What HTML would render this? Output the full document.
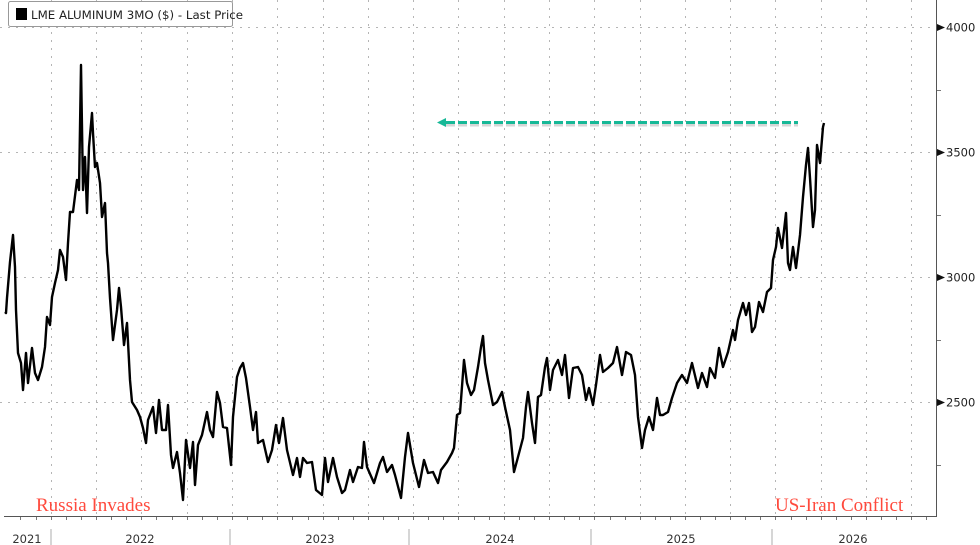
<!DOCTYPE html>
<html><head><meta charset="utf-8"><style>
html,body{margin:0;padding:0;background:#fff;}
svg{display:block;}
</style></head><body>
<svg width="980" height="545" viewBox="0 0 980 545" xmlns="http://www.w3.org/2000/svg">
<rect width="980" height="545" fill="#fff"/>
<g stroke="#b5b5b5" stroke-width="1" stroke-dasharray="2,6">
<line x1="0" y1="27.5" x2="936" y2="27.5"/>
<line x1="0" y1="152.5" x2="936" y2="152.5"/>
<line x1="0" y1="277.5" x2="936" y2="277.5"/>
<line x1="0" y1="402.5" x2="936" y2="402.5"/>
<line x1="51.5" y1="0" x2="51.5" y2="516"/>
<line x1="96.5" y1="0" x2="96.5" y2="516"/>
<line x1="141.5" y1="0" x2="141.5" y2="516"/>
<line x1="187.5" y1="0" x2="187.5" y2="516"/>
<line x1="232.5" y1="0" x2="232.5" y2="516"/>
<line x1="277.5" y1="0" x2="277.5" y2="516"/>
<line x1="323.5" y1="0" x2="323.5" y2="516"/>
<line x1="368.5" y1="0" x2="368.5" y2="516"/>
<line x1="413.5" y1="0" x2="413.5" y2="516"/>
<line x1="458.5" y1="0" x2="458.5" y2="516"/>
<line x1="504.5" y1="0" x2="504.5" y2="516"/>
<line x1="549.5" y1="0" x2="549.5" y2="516"/>
<line x1="594.5" y1="0" x2="594.5" y2="516"/>
<line x1="640.5" y1="0" x2="640.5" y2="516"/>
<line x1="685.5" y1="0" x2="685.5" y2="516"/>
<line x1="730.5" y1="0" x2="730.5" y2="516"/>
<line x1="775.5" y1="0" x2="775.5" y2="516"/>
<line x1="821.5" y1="0" x2="821.5" y2="516"/>
<line x1="866.5" y1="0" x2="866.5" y2="516"/>
<line x1="911.5" y1="0" x2="911.5" y2="516"/>
</g>
<line x1="936.5" y1="0" x2="936.5" y2="517" stroke="#555" stroke-width="1"/>
<line x1="4" y1="516.5" x2="936" y2="516.5" stroke="#555" stroke-width="1"/>
<g stroke="#777" stroke-width="1">
<path d="M20.5 517v3M36.5 517v3M51.5 517v3M66.5 517v3M81.5 517v3M96.5 517v3M111.5 517v3M126.5 517v3M141.5 517v3M156.5 517v3M172.5 517v3M187.5 517v3M202.5 517v3M217.5 517v3M232.5 517v3M247.5 517v3M262.5 517v3M277.5 517v3M292.5 517v3M308.5 517v3M323.5 517v3M338.5 517v3M353.5 517v3M368.5 517v3M383.5 517v3M398.5 517v3M413.5 517v3M428.5 517v3M443.5 517v3M458.5 517v3M474.5 517v3M489.5 517v3M504.5 517v3M519.5 517v3M534.5 517v3M549.5 517v3M564.5 517v3M579.5 517v3M594.5 517v3M610.5 517v3M625.5 517v3M640.5 517v3M655.5 517v3M670.5 517v3M685.5 517v3M700.5 517v3M715.5 517v3M730.5 517v3M745.5 517v3M760.5 517v3M775.5 517v3M791.5 517v3M806.5 517v3M821.5 517v3M836.5 517v3M851.5 517v3M866.5 517v3M881.5 517v3M896.5 517v3M911.5 517v3M926.5 517v3"/>
<path d="M937 90.5h4M937 215.5h4M937 340.5h4M937 465.5h4"/>
</g>
<g fill="#111">
<path d="M937 24l8 3.5l-8 3.5z"/><path d="M937 149l8 3.5l-8 3.5z"/><path d="M937 274l8 3.5l-8 3.5z"/><path d="M937 399l8 3.5l-8 3.5z"/>
</g>
<g font-family="'DejaVu Sans','Liberation Sans',sans-serif" font-size="11.5" fill="#222">
<text x="946" y="31.5">4000</text>
<text x="946" y="156.5">3500</text>
<text x="946" y="281.5">3000</text>
<text x="946" y="406.5">2500</text>
</g>
<g stroke="#bbb" stroke-width="1.2">
<line x1="51" y1="529" x2="51" y2="545"/><line x1="230" y1="529" x2="230" y2="545"/><line x1="409" y1="529" x2="409" y2="545"/><line x1="591" y1="529" x2="591" y2="545"/><line x1="772" y1="529" x2="772" y2="545"/>
</g>
<g font-family="'DejaVu Sans','Liberation Sans',sans-serif" font-size="11.5" fill="#333" text-anchor="middle">
<text x="27" y="543">2021</text><text x="140" y="543">2022</text><text x="320" y="543">2023</text><text x="500" y="543">2024</text><text x="681" y="543">2025</text><text x="853" y="543">2026</text>
</g>
<polyline fill="none" stroke="#000" stroke-width="2.4" stroke-linejoin="round" points="5,312 6,313 7,298 10,262 13,235 15,267 16,310 18,353 21,363 23,390 26,353 28,383 32,348 35,373 38,380 42,367 45,347 47,317 50,325 52,297 55,283 58,270 60,250 63,257 66,280 68,243 70,212 73,212 77,180 79,190 81,65 83,190 85,157 87,213 89,147 92,113 93,133 95,167 97,163 100,183 102,217 105,203 107,253 108,263 110,298 113,340 117,310 119,288 121,307 124,345 127,323 130,380 132,402 137,410 140,417 143,428 146,443 148,420 153,407 156,433 159,400 162,430 166,430 168,405 171,455 173,468 177,452 180,473 183,500 186,440 190,468 193,442 195,485 198,445 202,435 207,412 210,430 213,437 217,392 220,403 223,427 227,428 231,465 233,417 237,377 240,368 243,363 246,378 250,407 253,430 256,412 258,443 263,440 268,462 272,450 276,425 279,443 283,418 287,450 293,475 297,458 300,477 303,458 307,463 312,462 316,490 322,495 325,458 328,482 333,458 337,477 342,493 345,490 350,470 353,482 358,467 362,468 364,442 367,467 374,483 380,463 383,457 387,472 392,465 395,475 401,498 405,457 408,433 413,463 419,487 424,460 428,473 433,472 438,483 441,470 447,462 452,453 454,448 457,415 460,413 464,360 467,383 471,395 474,390 478,367 481,347 483,336 485,363 488,380 493,405 497,402 502,392 505,407 510,430 514,472 518,457 523,438 526,407 528,392 532,423 535,443 538,397 541,395 545,367 547,358 550,390 553,370 558,360 562,375 565,355 569,398 573,368 578,367 582,375 586,400 589,388 593,405 596,385 600,355 603,372 608,368 613,363 617,347 622,375 626,352 631,355 635,375 638,417 642,448 645,430 649,417 653,430 657,398 660,415 663,415 668,412 672,398 677,383 682,375 687,383 692,363 698,388 702,373 707,387 710,368 715,378 719,348 723,367 728,352 733,330 735,340 738,320 743,303 746,315 749,303 752,332 755,327 759,302 763,312 767,292 771,288 773,260 776,247 778,228 782,248 786,213 788,263 790,270 793,247 796,268 800,235 803,197 806,165 808,148 810,178 813,227 815,210 817,145 820,163 823,127 824,123"/>
<line x1="446" y1="125" x2="798" y2="125" stroke="#bbb" stroke-width="3" stroke-dasharray="9,3" opacity="0.6"/>
<line x1="446" y1="122.5" x2="798" y2="122.5" stroke="#17b897" stroke-width="3" stroke-dasharray="9,3"/>
<path d="M437 122.5l9 -4.5v9z" fill="#17b897"/>
<g font-family="'Liberation Serif',serif" font-size="19" fill="#ff4a3d">
<text x="36" y="511">Russia Invades</text>
<text x="775" y="511">US-Iran Conflict</text>
</g>
<rect x="8.5" y="1.5" width="224" height="25" rx="2" fill="#fff" stroke="#999"/>
<rect x="16" y="8" width="11" height="12" fill="#000"/>
<text x="31" y="19" font-family="'DejaVu Sans','Liberation Sans',sans-serif" font-size="11.8" fill="#222">LME ALUMINUM 3MO ($) - Last Price</text>
</svg>
</body></html>
